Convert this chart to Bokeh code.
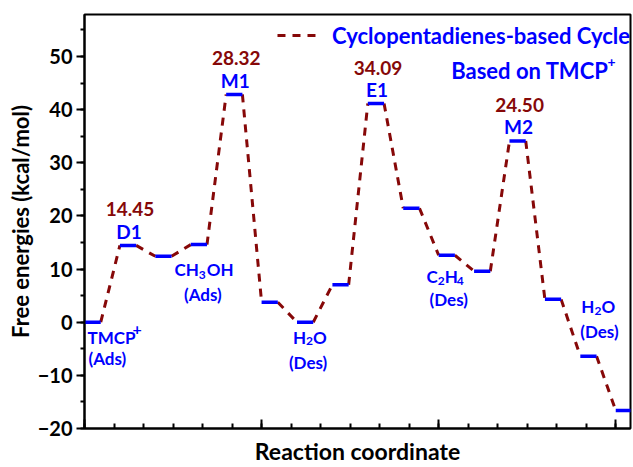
from bokeh.plotting import figure
from bokeh.models import Range1d, FixedTicker, Label, Legend, LegendItem, ColumnDataSource
from bokeh.embed import file_html
from bokeh.resources import INLINE

# ---------------- data ----------------
steps = list(range(16))
energies = [0.0, 14.45, 12.4, 14.6, 42.85, 3.75, 0.0, 7.05,
            41.15, 21.45, 12.6, 9.6, 34.1, 4.3, -6.4, -16.6]
barrier_steps = [1, 4, 8, 12]
barrier_names = ["D1", "M1", "E1", "M2"]
barrier_values = ["14.45", "28.32", "34.09", "24.50"]
y_major_ticks = [-20, -10, 0, 10, 20, 30, 40, 50]
y_minor_ticks = list(range(-20, 60, 5))
x_major_ticks = [0, 6, 12, 18]
x_minor_ticks = list(range(0, 19))

# ---------------- layout constants ----------------
STEP = 1.2
LEVEL_W = 0.55
FONT = "Lato"
BLUE = "#0000ff"
DARKRED = "#860808"

x_start = [STEP * s for s in steps]
x_end = [x + LEVEL_W for x in x_start]
x_mid = [x + LEVEL_W / 2 for x in x_start]

conn_src = ColumnDataSource(dict(
    xs=[[x_end[i], x_start[i + 1]] for i in range(len(steps) - 1)],
    ys=[[energies[i], energies[i + 1]] for i in range(len(steps) - 1)],
))
lvl_src = ColumnDataSource(dict(x0=x_start, x1=x_end, y=energies))

p = figure(width=633, height=467, output_backend="svg", toolbar_location=None,
           x_range=Range1d(0, 18.5), y_range=Range1d(-20, 57.9),
           min_border_left=84, min_border_right=3, min_border_top=14, min_border_bottom=38)
p.xgrid.visible = False
p.ygrid.visible = False
p.outline_line_color = "black"
p.outline_line_width = 2
p.background_fill_color = "white"
p.border_fill_color = "white"

conn = p.multi_line("xs", "ys", source=conn_src, line_color=DARKRED, line_width=3,
                    line_dash="8 7")
p.segment(x0="x0", y0="y", x1="x1", y1="y", source=lvl_src, line_color=BLUE, line_width=3.5)

# axes
ya = p.yaxis[0]
ya.ticker = FixedTicker(ticks=y_major_ticks, minor_ticks=y_minor_ticks)
ya.axis_label = "Free energies (kcal/mol)"
ya.axis_label_text_font = FONT
ya.axis_label_text_font_style = "bold"
ya.axis_label_text_font_size = "22px"
ya.axis_label_text_color = "black"
ya.axis_label_standoff = 1
ya.major_label_text_font = FONT
ya.major_label_text_font_style = "bold"
ya.major_label_text_font_size = "20px"
ya.major_label_text_color = "black"
ya.major_label_standoff = 4
ya.axis_line_width = 2
ya.major_tick_line_width = 2
ya.minor_tick_line_width = 2
ya.major_tick_in = 0
ya.major_tick_out = 8
ya.minor_tick_in = 0
ya.minor_tick_out = 4

xa = p.xaxis[0]
xa.ticker = FixedTicker(ticks=x_major_ticks, minor_ticks=x_minor_ticks)
xa.major_label_overrides = {t: "" for t in x_major_ticks}
xa.major_label_text_font_size = "0px"
xa.axis_label = "Reaction coordinate"
xa.axis_label_text_font = FONT
xa.axis_label_text_font_style = "bold"
xa.axis_label_text_font_size = "23px"
xa.axis_label_text_color = "black"
xa.axis_label_standoff = 8
xa.major_label_standoff = 0
xa.axis_line_width = 2
xa.major_tick_line_width = 2
xa.minor_tick_line_width = 2
xa.major_tick_in = 9
xa.major_tick_out = 0
xa.minor_tick_in = 5
xa.minor_tick_out = 0

# legend
legend = Legend(items=[LegendItem(label="Cyclopentadienes-based Cycle", renderers=[conn])],
                location="top_right", border_line_color=None, background_fill_alpha=0,
                padding=0, margin=0, spacing=0, glyph_width=43, glyph_height=42,
                label_height=42, label_standoff=12, label_text_font=FONT,
                label_text_font_style="bold", label_text_font_size="22px",
                label_text_color=BLUE)
p.add_layout(legend)


def lbl(x, y, text, dx, dy, size, color=BLUE, align="center"):
    p.add_layout(Label(x=x, y=y, text=text, x_offset=dx, y_offset=dy,
                       text_font=FONT, text_font_style="bold", text_font_size=f"{size}px",
                       text_color=color, text_align=align, text_baseline="middle"))


# "Based on TMCP+"
lbl(18.5, 47.4, "Based on TMCP", -22, 0, 22, align="right")
lbl(18.5, 47.4, "+", -23, 8, 14, align="left")

# barrier labels
for s, name, val in zip(barrier_steps, barrier_names, barrier_values):
    lbl(x_mid[s], energies[s], name, 1, 14, 19)
    lbl(x_mid[s], energies[s], val, 2, 36, 19, color=DARKRED)

# species labels
# TMCP+ (Ads) at step 0
lbl(x_start[0], energies[0], "TMCP", 3, -15, 17, align="left")
lbl(x_start[0], energies[0], "+", 48, -7, 16, align="left")
lbl(x_start[0], energies[0], "(Ads)", 4, -36, 17, align="left")
# CH3OH (Ads) at step 3
lbl(x_mid[3], energies[3], "CH", 0, -25, 17, align="right")
lbl(x_mid[3], energies[3], "3", 0, -30, 12, align="left")
lbl(x_mid[3], energies[3], "OH", 8, -25, 17, align="left")
lbl(x_mid[3], energies[3], "(Ads)", 4, -50, 17)
# H2O (Des) at step 6
lbl(x_mid[6], energies[6], "H", 1, -15, 17, align="right")
lbl(x_mid[6], energies[6], "2", 1, -19, 12, align="left")
lbl(x_mid[6], energies[6], "O", 8, -15, 17, align="left")
lbl(x_mid[6], energies[6], "(Des)", 3, -40, 17)
# C2H4 (Des) at step 10
lbl(x_mid[10], energies[10], "C", -9, -21, 17, align="right")
lbl(x_mid[10], energies[10], "2", -9, -26, 12, align="left")
lbl(x_mid[10], energies[10], "H", -2, -21, 17, align="left")
lbl(x_mid[10], energies[10], "4", 10, -26, 12, align="left")
lbl(x_mid[10], energies[10], "(Des)", 2, -44, 17)
# H2O (Des) at step 14
lbl(x_mid[14], energies[14], "H", 6, 50, 17, align="right")
lbl(x_mid[14], energies[14], "2", 6, 45, 12, align="left")
lbl(x_mid[14], energies[14], "O", 13, 50, 17, align="left")
lbl(x_mid[14], energies[14], "(Des)", 11, 25, 17)

open("out.html", "w").write(file_html(p, INLINE))
